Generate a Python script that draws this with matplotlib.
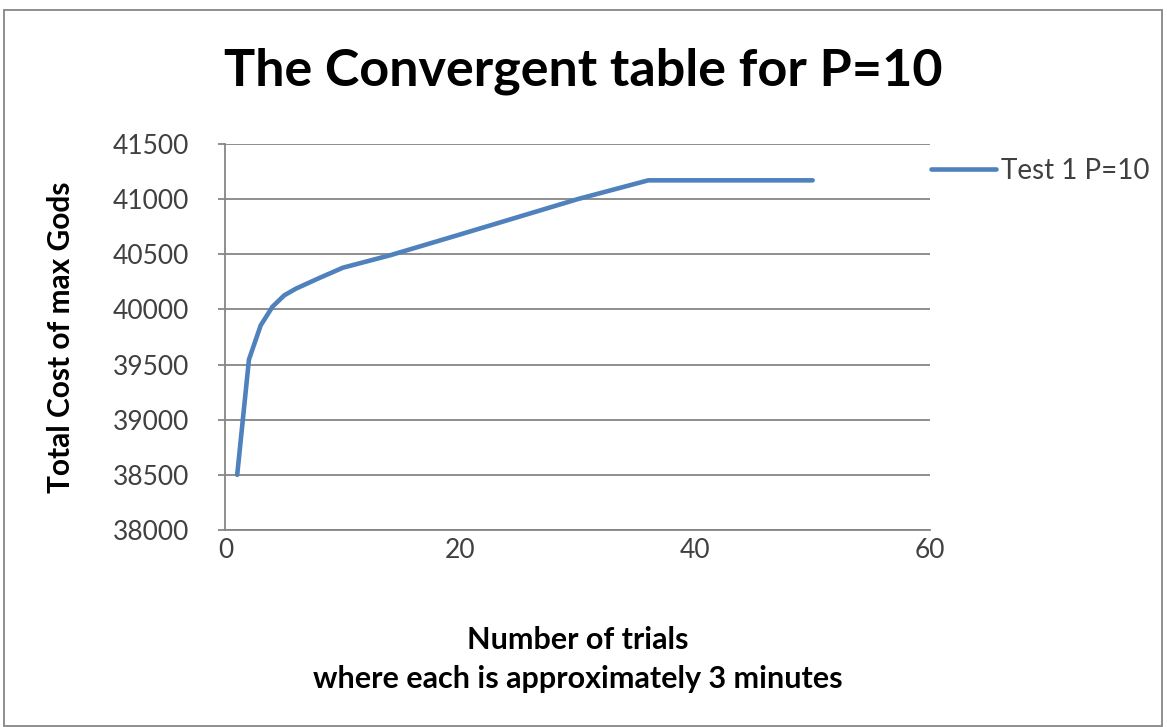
import matplotlib.pyplot as plt
from matplotlib.patches import Rectangle

# trial number vs total cost
trials = [1, 2, 3, 4, 5, 6, 8, 10, 14, 20, 30, 36, 50]
total_cost = [38500, 39545, 39855, 40024, 40127, 40188, 40285, 40378,
              40490, 40680, 41000, 41170, 41170]
series_name = "Test 1 P=10"

x_ticks = [0, 20, 40, 60]
y_ticks = [38000, 38500, 39000, 39500, 40000, 40500, 41000, 41500]

blue = "#4F81BD"
grey = "#868686"
txt = "#404040"
font = "Lato"

fig = plt.figure(figsize=(11.67, 7.27), dpi=100)
ax = fig.add_axes([0.1932, 0.271, 0.6038, 0.531])

ax.plot(trials, total_cost, color=blue, lw=3.3, solid_capstyle="round",
        solid_joinstyle="round", label=series_name)

ax.set_xlim(0, 60)
ax.set_ylim(38000, 41500)
ax.set_xticks(x_ticks)
ax.set_yticks(y_ticks)
ax.yaxis.grid(True, color=grey, lw=1.3)
ax.set_axisbelow(True)
for s in ["top", "right"]:
    ax.spines[s].set_visible(False)
for s in ["left", "bottom"]:
    ax.spines[s].set_color(grey)
    ax.spines[s].set_linewidth(1.3)
ax.tick_params(axis="x", length=0, pad=6, labelsize=19, labelcolor=txt)
ax.tick_params(axis="y", length=5, color=grey, width=1.3, pad=21,
               labelsize=19, labelcolor=txt)
for lab in ax.get_xticklabels() + ax.get_yticklabels():
    lab.set_fontfamily(font)

ax.set_ylabel("Total Cost of max Gods", fontsize=21.5, fontweight="bold",
              family=font)
ax.yaxis.set_label_coords(-0.214, 0.5)
ax.set_xlabel("Number of trials\nwhere each is approximately 3 minutes",
              fontsize=22, fontweight="bold", family=font, linespacing=1.45)
ax.xaxis.set_label_coords(0.5, -0.25)

fig.text(0.50, 0.902, "The Convergent table for P=10", ha="center",
         va="center", fontsize=37.5, fontweight="bold", family=font)

ax.legend(loc="center left", bbox_to_anchor=(0.966, 0.93), frameon=False,
          prop={"family": font, "size": 20}, handlelength=2.35,
          handletextpad=0.15, labelcolor=txt)

fig.patches.append(Rectangle((0.003, 0.001), 0.993, 0.985,
                             transform=fig.transFigure, fill=False,
                             edgecolor=grey, lw=1.3))

fig.savefig("out.png", dpi=100)
